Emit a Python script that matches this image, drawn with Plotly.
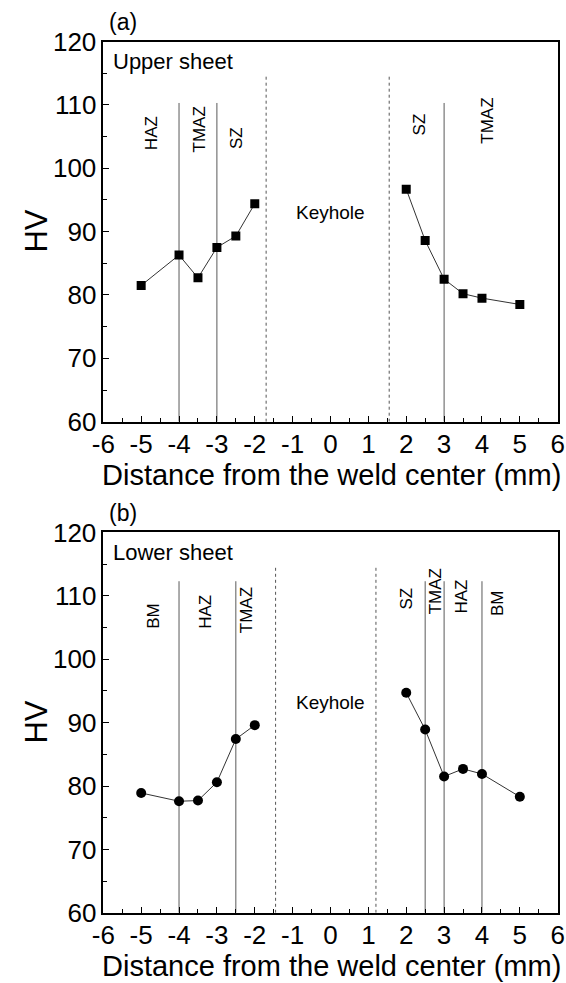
import plotly.graph_objects as go

# Microhardness profiles across the weld (HV), upper and lower sheet
x_left = [-5, -4, -3.5, -3, -2.5, -2]
x_right = [2, 2.5, 3, 3.5, 4, 5]
hv_upper_left = [81.5, 86.3, 82.7, 87.5, 89.3, 94.4]
hv_upper_right = [96.7, 88.6, 82.5, 80.2, 79.5, 78.5]
hv_lower_left = [78.9, 77.6, 77.7, 80.6, 87.4, 89.6]
hv_lower_right = [94.7, 88.9, 81.5, 82.7, 81.9, 78.3]

# Axis ticks (hyphen-minus labels)
x_ticks = [-6, -5, -4, -3, -2, -1, 0, 1, 2, 3, 4, 5, 6]
x_tick_text = ["-6", "-5", "-4", "-3", "-2", "-1", "0", "1", "2", "3", "4", "5", "6"]
y_ticks = [60, 70, 80, 90, 100, 110, 120]

# Zone boundaries (mm) and keyhole edges
upper_zone_lines = [-4, -3, 3]
upper_keyhole_edges = [-1.7, 1.55]
lower_zone_lines = [-4, -2.5, 2.5, 3, 4]
lower_keyhole_edges = [-1.45, 1.2]

# Zone names with their label positions (x in mm, y in HV)
upper_zone_names = ["HAZ", "TMAZ", "SZ", "SZ", "TMAZ"]
upper_zone_x = [-4.72, -3.45, -2.48, 2.36, 4.16]
upper_zone_y = [105.5, 106.1, 104.7, 106.9, 107.5]
lower_zone_names = ["BM", "HAZ", "TMAZ", "SZ", "TMAZ", "HAZ", "BM"]
lower_zone_x = [-4.68, -3.31, -2.22, 2.01, 2.76, 3.45, 4.43]
lower_zone_y = [106.9, 107.5, 107.8, 109.5, 110.7, 109.9, 108.9]

W, H = 566, 983
FONT = "Arial, Liberation Sans, sans-serif"

def px_x(p):
    return p / W

def px_y(p):
    return 1 - p / H

# Plot boxes in pixels
X0, X1 = 103.3, 557.7
TOP = (41.5, 421.7)
BOT = (532.4, 912.8)

fig = go.Figure()

line_style = dict(color="#333333", width=1)

def add_profile(xs, ys, symbol, size, xa, ya):
    fig.add_trace(go.Scatter(
        x=xs, y=ys, mode="lines+markers", xaxis=xa, yaxis=ya,
        line=line_style,
        marker=dict(symbol=symbol, size=size, color="black", line=dict(width=0)),
        showlegend=False, hoverinfo="x+y"))

add_profile(x_left, hv_upper_left, "square", 9, "x", "y")
add_profile(x_right, hv_upper_right, "square", 9, "x", "y")
add_profile(x_left, hv_lower_left, "circle", 10, "x2", "y2")
add_profile(x_right, hv_lower_right, "circle", 10, "x2", "y2")

shapes = []
for xv in upper_zone_lines:
    shapes.append(dict(type="line", xref="x", yref="y", x0=xv, x1=xv, y0=60, y1=110.3,
                       line=dict(color="#5a5a5a", width=1), layer="below"))
for xv in upper_keyhole_edges:
    shapes.append(dict(type="line", xref="x", yref="y", x0=xv, x1=xv, y0=60, y1=114.6,
                       line=dict(color="#555555", width=1, dash="dot"), layer="below"))
for xv in lower_zone_lines:
    shapes.append(dict(type="line", xref="x2", yref="y2", x0=xv, x1=xv, y0=60, y1=112.3,
                       line=dict(color="#5a5a5a", width=1), layer="below"))
for xv in lower_keyhole_edges:
    shapes.append(dict(type="line", xref="x2", yref="y2", x0=xv, x1=xv, y0=60, y1=114.5,
                       line=dict(color="#555555", width=1, dash="dot"), layer="below"))

annotations = []
for name, xv, yv in zip(upper_zone_names, upper_zone_x, upper_zone_y):
    annotations.append(dict(text=name, x=xv, y=yv, xref="x", yref="y", textangle=-90,
                            showarrow=False, font=dict(family=FONT, size=17, color="black"),
                            xanchor="center", yanchor="middle"))
for name, xv, yv in zip(lower_zone_names, lower_zone_x, lower_zone_y):
    annotations.append(dict(text=name, x=xv, y=yv, xref="x2", yref="y2", textangle=-90,
                            showarrow=False, font=dict(family=FONT, size=17, color="black"),
                            xanchor="center", yanchor="middle"))

for xa, ya, top, bot, tag, sheet in [("x", "y", TOP[0], TOP[1], "(a)", "Upper sheet"),
                                      ("x2", "y2", BOT[0], BOT[1], "(b)", "Lower sheet")]:
    annotations.append(dict(text="Keyhole", x=0, y=93 if ya == "y" else 93.2, xref=xa, yref=ya,
                            showarrow=False, font=dict(family=FONT, size=19, color="black")))
    annotations.append(dict(text=sheet, x=px_x(111), y=px_y(top + 20), xref="paper", yref="paper",
                            xanchor="left", yanchor="middle", showarrow=False,
                            font=dict(family=FONT, size=22, color="black")))
    annotations.append(dict(text=tag, x=px_x(107), y=px_y(top - 19), xref="paper", yref="paper",
                            xanchor="left", yanchor="middle", showarrow=False,
                            font=dict(family=FONT, size=23, color="black")))
    annotations.append(dict(text="HV", x=px_x(37), y=px_y((top + bot) / 2), xref="paper", yref="paper",
                            textangle=-90, xanchor="center", yanchor="middle", showarrow=False,
                            font=dict(family=FONT, size=31, color="black")))
    annotations.append(dict(text="Distance from the weld center (mm)", x=px_x(332), y=px_y(bot + 53),
                            xref="paper", yref="paper", xanchor="center", yanchor="middle",
                            showarrow=False, font=dict(family=FONT, size=29, color="black")))

axis_common = dict(showgrid=False, zeroline=False, showline=True, linecolor="black", linewidth=1.5,
                   mirror=True, ticks="inside", tickcolor="black", tickwidth=1.2, ticklen=6,
                   tickfont=dict(family=FONT, size=26, color="black"), automargin=False)

xaxis_cfg = dict(axis_common, range=[-6, 6], tickmode="array", tickvals=x_ticks, ticktext=x_tick_text,
                 ticklabelstandoff=-2,
                 minor=dict(dtick=0.5, tick0=-6, ticks="inside", ticklen=4, tickcolor="black", tickwidth=1.2))
yaxis_cfg = dict(axis_common, range=[60, 120], tickmode="array", tickvals=y_ticks,
                 minor=dict(dtick=5, tick0=60, ticks="inside", ticklen=4, tickcolor="black", tickwidth=1.2))

fig.update_layout(
    width=W, height=H,
    margin=dict(l=0, r=0, t=0, b=0),
    paper_bgcolor="white", plot_bgcolor="white",
    xaxis=dict(xaxis_cfg, domain=[px_x(X0), px_x(X1)], anchor="y"),
    yaxis=dict(yaxis_cfg, domain=[px_y(TOP[1]), px_y(TOP[0])], anchor="x"),
    xaxis2=dict(xaxis_cfg, domain=[px_x(X0), px_x(X1)], anchor="y2"),
    yaxis2=dict(yaxis_cfg, domain=[px_y(BOT[1]), px_y(BOT[0])], anchor="x2"),
    shapes=shapes,
    annotations=annotations,
)

fig.write_html("out.html")
